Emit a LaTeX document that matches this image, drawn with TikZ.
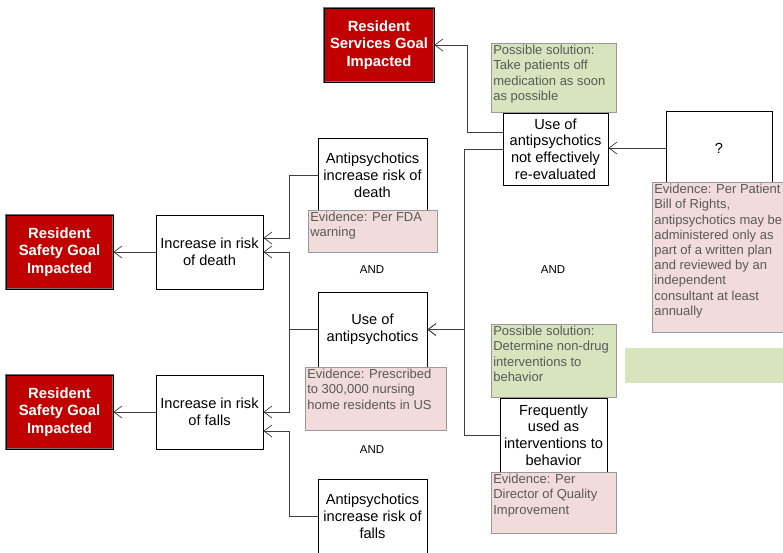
\documentclass[tikz,border=0pt]{standalone}
\usepackage{fontspec}
\setmainfont{Liberation Sans}
\usetikzlibrary{arrows.meta,positioning,calc}
\definecolor{goalred}{HTML}{C00000}
\definecolor{evpink}{HTML}{F2DCDB}
\definecolor{solgreen}{HTML}{D7E4BD}

\begin{document}
\begin{tikzpicture}[x=1pt,y=-1pt,
  box/.style={draw=black, line width=0.8pt, fill=white, align=center, inner sep=1pt,
    minimum width=107pt, minimum height=74pt, font=\fontsize{14.6}{16.8}\selectfont},
  goal/.style={box, fill=goalred, draw=black!55, double=black, line width=0.7pt,
    double distance=0.9pt, text=white, font=\fontsize{14.8}{17.2}\selectfont\bfseries},
  evidence/.style={draw=black!40, line width=0.6pt, fill=evpink, anchor=north west,
    inner sep=2pt, text=black!65, font=\fontsize{13}{15.2}\selectfont},
  solution/.style={evidence, fill=solgreen},
  andtext/.style={font=\fontsize{11.5}{13}\selectfont},
  conn/.style={draw=black!75, line width=0.7pt},
  arr/.style={conn, -{Straight Barb[length=8pt,width=12pt]}}]
    \useasboundingbox (0,0) rectangle (783,552);

    % Goals
    \node[goal, minimum width=110pt] (svc) at (379,45) {Resident\\Services Goal\\Impacted};
    \node[goal] (safe1) at (59.5,252) {Resident\\Safety Goal\\Impacted};
    \node[goal] (safe2) at (59.5,412) {Resident\\Safety Goal\\Impacted};

    % Effects
    \node[box] (death) at (209.5,252) {Increase in risk\\of death};
    \node[box] (falls) at (209.5,412) {Increase in risk\\of falls};

    % Causes
    \node[box, minimum width=109pt] (adeath) at (372.5,175) {Antipsychotics\\increase risk of\\death};
    \node[box, minimum width=109pt, minimum height=75pt] (use) at (372.5,329.5) {Use of\\antipsychotics};
    \node[box, minimum width=109pt] (afalls) at (372.5,516) {Antipsychotics\\increase risk of\\falls};
    \node[andtext] (and1) at (372,270) {AND};
    \node[andtext] (and2) at (372,450) {AND};

    % Root causes
    \node[box, minimum width=105pt, minimum height=72pt] (reeval) at (555.5,149) {Use of\\antipsychotics\\not effectively\\re-evaluated};
    \node[box] (freq) at (553.5,435) {Frequently\\used as\\interventions to\\behavior};
    \node[box, minimum width=106pt] (q) at (719,148) {?};
    \node[andtext] (and3) at (553,270) {AND};

    % Evidence and solutions
    \node[evidence] (evdeath) at (308,210) {\parbox[t][38pt][t]{125pt}{\raggedright Evidence: Per FDA\\warning}};
    \node[evidence] (evuse) at (305,367) {\parbox[t][59pt][t]{137pt}{\raggedright Evidence: Prescribed\\to 300,000 nursing\\home residents in US}};
    \node[evidence] (evq) at (652,182) {\parbox[t][146pt][t]{136pt}{\raggedright Evidence: Per Patient\\Bill of Rights,\\antipsychotics may be\\administered only as\\part of a written plan\\and reviewed by an\\independent\\consultant at least\\annually}};
    \node[evidence] (evfreq) at (491,472) {\parbox[t][57pt][t]{121pt}{\raggedright Evidence: Per\\Director of Quality\\Improvement}};
    \node[solution] (solre) at (491,43) {\parbox[t][65pt][t]{121pt}{\raggedright Possible solution:\\Take patients off\\medication as soon\\as possible}};
    \node[solution] (solfreq) at (491,324) {\parbox[t][69pt][t]{121pt}{\raggedright Possible solution:\\Determine non-drug\\interventions to\\behavior}};
    \node[solution, draw=none, minimum width=175pt, minimum height=35pt] (blank) at (625,348) {};

    % Connectors
    \draw[arr] (death.west) -- (safe1.east);
    \draw[arr] (falls.west) -- (safe2.east);
    \draw[arr] (adeath.west) -- ++(-28,0) |- ([yshift=14pt]death.east);
    \draw[arr] (use.west) -- ++(-28,0) |- (death.east);
    \draw[arr] (use.west) -- ++(-28,0) |- (falls.east);
    \draw[arr] (afalls.west) -- ++(-28,0) |- ([yshift=-19pt]falls.east);
    \draw[arr] (reeval.west) -- ++(-38,0) |- (use.east);
    \draw[arr] (freq.west) -- ++(-35,0) |- (use.east);
    \draw[arr] ([yshift=17pt]reeval.west) -- ++(-35,0) |- (svc.east);
    \draw[arr] (q.west) -- (q.west -| reeval.east);
\end{tikzpicture}
\end{document}
